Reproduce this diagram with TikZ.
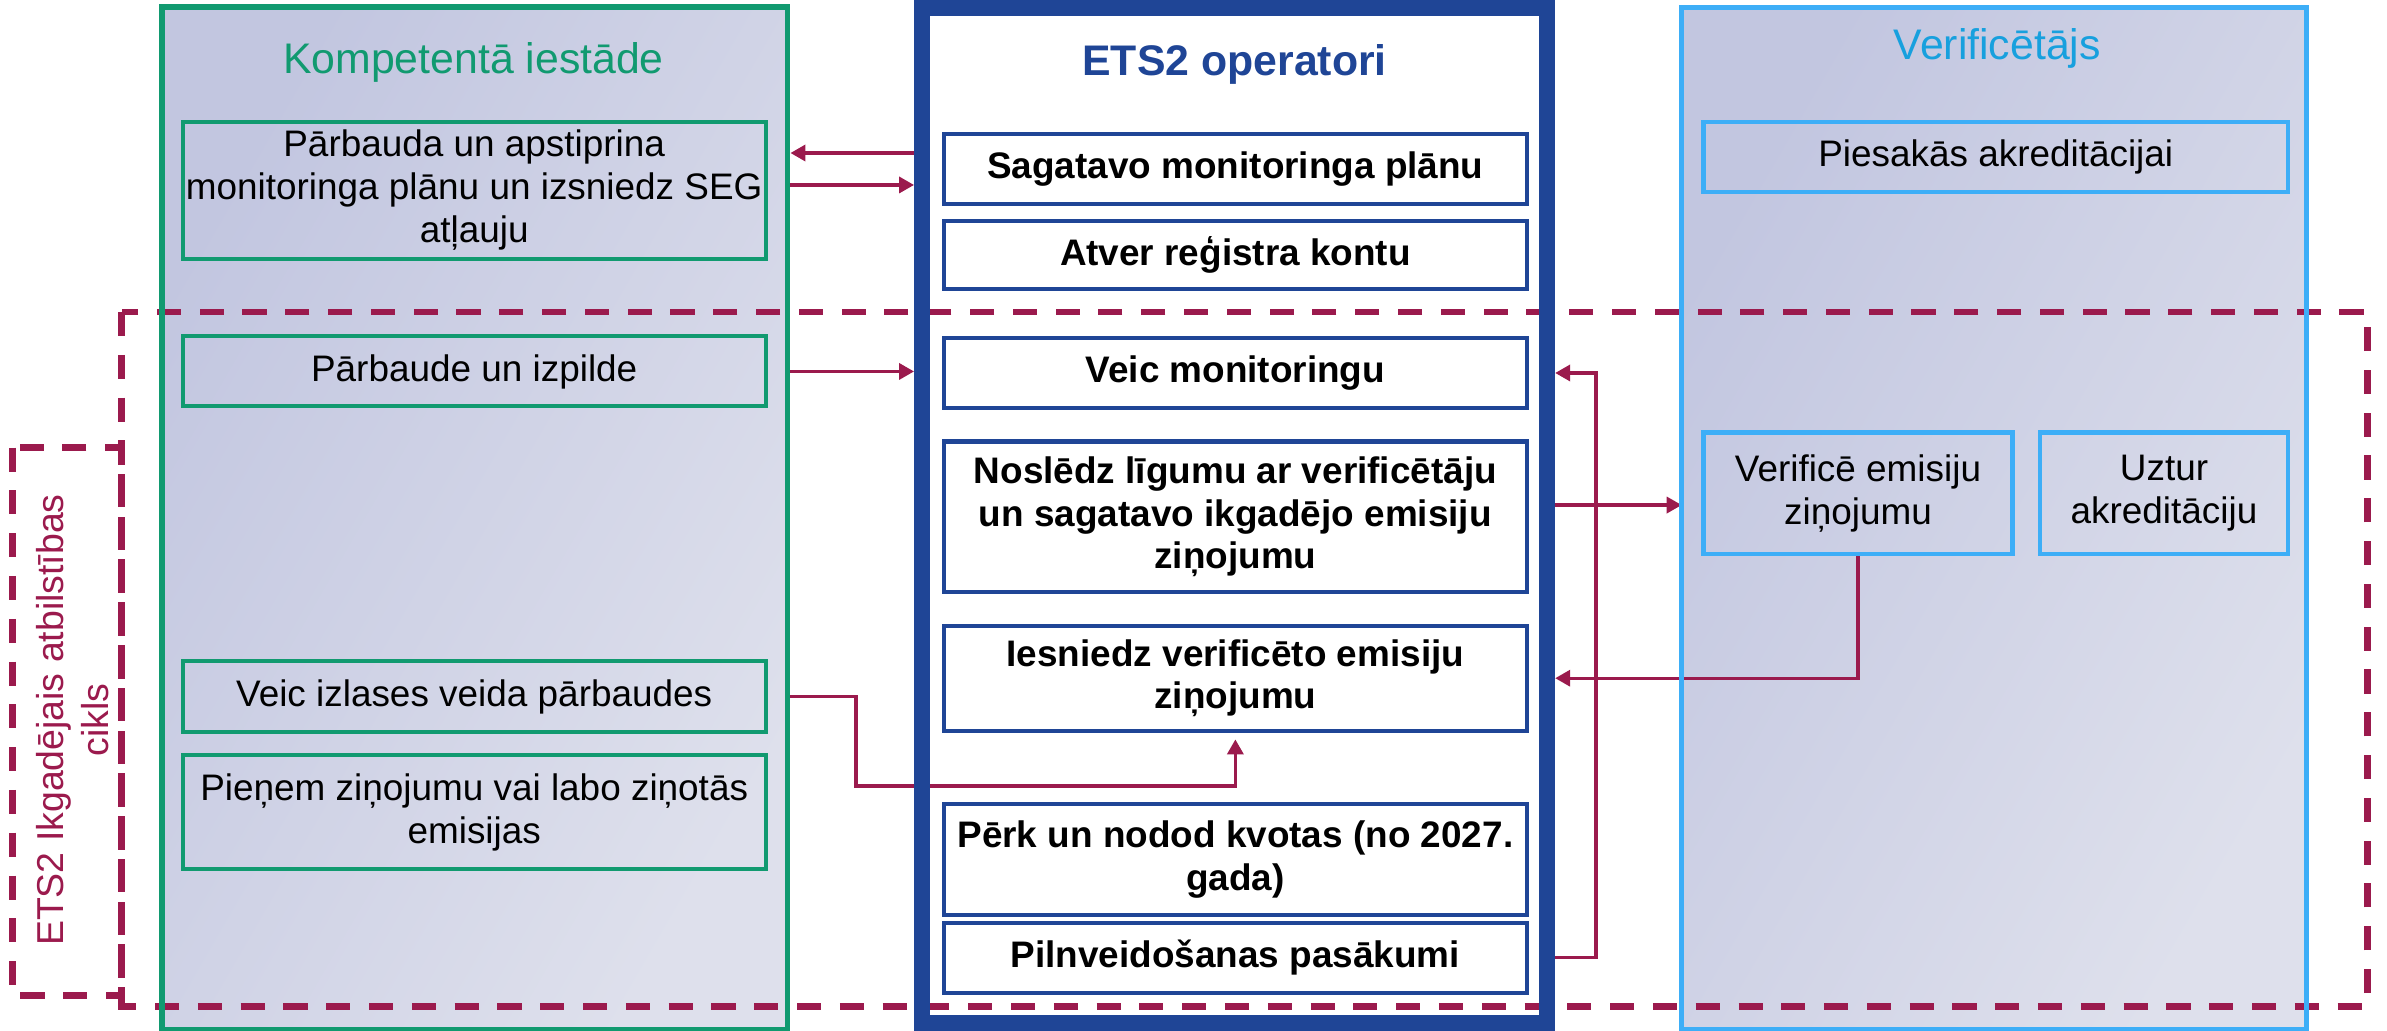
\documentclass[tikz,border=0pt]{standalone}
\usepackage{fontspec}
\setmainfont{Liberation Sans}
\usetikzlibrary{arrows.meta,calc}

\definecolor{kigreen}{HTML}{119A70}
\definecolor{etsblue}{HTML}{1F4596}
\definecolor{verblue}{HTML}{3DAEF7}
\definecolor{vertitle}{HTML}{17A0DE}
\definecolor{cycred}{HTML}{9B1A4D}
\definecolor{lavA}{HTML}{C2C6E0}
\definecolor{lavB}{HTML}{DEE0EC}

\tikzset{
  panelfill/.style={inner sep=0pt, left color=lavA, right color=lavB, shading angle=60},
  boxtext/.style={font=\fontsize{13.8}{16}\selectfont, align=center, inner sep=0pt},
  kibox/.style={boxtext, draw=kigreen, line width=1.5pt, minimum width=7.66cm},
  opbox/.style={boxtext, draw=etsblue, fill=white, line width=1.5pt, minimum width=7.66cm,
    font=\fontsize{13.8}{16}\selectfont\bfseries},
  verbox/.style={boxtext, draw=verblue, line width=1.7pt},
  paneltitle/.style={font=\fontsize{16}{19}\selectfont, inner sep=0pt},
  flow/.style={draw=cycred, line width=1.25pt, -{Triangle[length=5.6pt,width=6pt]}},
  cyclebox/.style={draw=cycred, line width=2.5pt, dash pattern=on 9pt off 7pt}
}

\begin{document}
\begin{tikzpicture}[x=0.02cm, y=-0.02cm]
\useasboundingbox (0,0) rectangle (1568,677);

% panels
\node[panelfill, minimum width=8.21cm, minimum height=13.42cm] (ki) at (311.75,340.5) {};
\node[fill=white, inner sep=0pt, minimum width=8.2cm, minimum height=13.33cm] (op) at (811,338.5) {};
\node[panelfill, minimum width=8.2cm, minimum height=13.42cm] (ve) at (1310,340.5) {};

% annual cycle frame
\draw[cyclebox] (80,205) rectangle (1555,661);
\draw[cyclebox] (8,294) rectangle (80,654);
\node[rotate=90, text=cycred, font=\fontsize{14}{16.8}\selectfont, align=center, inner sep=0pt]
  (cyc) at (48,473) {ETS2 Ikgadējais atbilstības\\cikls};

% Kompetenta iestade
\node[kibox, minimum height=1.8cm] (b1) at (311.5,125) {Pārbauda un apstiprina\\monitoringa plānu un izsniedz SEG\\atļauju};
\node[kibox, minimum height=0.92cm] (b2) at (311.5,244) {Pārbaude un izpilde};
\node[kibox, minimum height=0.94cm] (b3) at (311.5,457.5) {Veic izlases veida pārbaudes};
\node[kibox, minimum height=1.5cm] (b4) at (311.5,533.5) {Pieņem ziņojumu vai labo ziņotās\\emisijas};

% operatori
\node[opbox, minimum height=0.92cm] (c1) at (811.5,111) {Sagatavo monitoringa plānu};
\node[opbox, minimum height=0.9cm] (c2) at (811.5,167.5) {Atver reģistra kontu};
\node[opbox, minimum height=0.92cm] (c3) at (811.5,245) {Veic monitoringu};
\node[opbox, minimum height=1.98cm] (c4) at (811.5,339.5) {Noslēdz līgumu ar verificētāju\\un sagatavo ikgadējo emisiju\\ziņojumu};
\node[opbox, minimum height=1.38cm] (c5) at (811.5,445.5) {Iesniedz verificēto emisiju\\ziņojumu};
\node[opbox, minimum height=1.46cm] (c6) at (811.5,564.5) {Pērk un nodod kvotas (no 2027.\\gada)};
\node[opbox, minimum height=0.92cm] (c7) at (811.5,629) {Pilnveidošanas pasākumi};

% verificetajs
\node[verbox, minimum width=7.68cm, minimum height=0.92cm] (r1) at (1311,103) {Piesakās akreditācijai};
\node[verbox, minimum width=4.06cm, minimum height=1.6cm] (r2) at (1220.5,324) {Verificē emisiju\\ziņojumu};
\node[verbox, minimum width=3.26cm, minimum height=1.6cm] (r3) at (1421.5,324) {Uztur\\akreditāciju};

% connectors
\coordinate (c1up) at ($(c1.west)+(0,-10.5)$);
\coordinate (c1dn) at ($(c1.west)+(0,10.5)$);
\coordinate (mid) at ($(c4.east)!0.5!(r2.west)$);
\draw[flow, shorten >=1.1pt] (op.west |- c1up) -- (ki.east |- c1up);
\draw[flow, shorten >=3pt] (ki.east |- c1dn) -- (op.west |- c1dn);
\draw[flow, shorten >=3pt] (ki.east |- b2.east) -- (op.west |- b2.east);
\draw[flow, shorten >=2.5pt] (ki.east |- b3.east) -- ++(45,0) |- ($(c5.south)+(0,35)$) -- (c5.south);
\draw[flow, shorten >=3pt] (op.east |- c7.east) -- ++(32,0) |- (op.east |- c3.east);
\draw[flow] (op.east |- mid) -- (ve.west |- mid);
\draw[flow, shorten >=3pt] (r2.south) |- (op.east |- c5.east);

% panel borders
\draw[kigreen, line width=2.2pt] (ki.north west) rectangle (ki.south east);
\draw[etsblue, line width=6pt] (op.north west) rectangle (op.south east);
\draw[verblue, line width=2pt] (ve.north west) rectangle (ve.south east);

% titles
\node[paneltitle, text=kigreen] (kititle) at (311,41) {Kompetentā iestāde};
\node[paneltitle, text=etsblue, font=\fontsize{16}{19}\selectfont\bfseries] (optitle) at (811,42) {ETS2 operatori};
\node[paneltitle, text=vertitle] (vetitle) at (1312,32) {Verificētājs};

\end{tikzpicture}
\end{document}
